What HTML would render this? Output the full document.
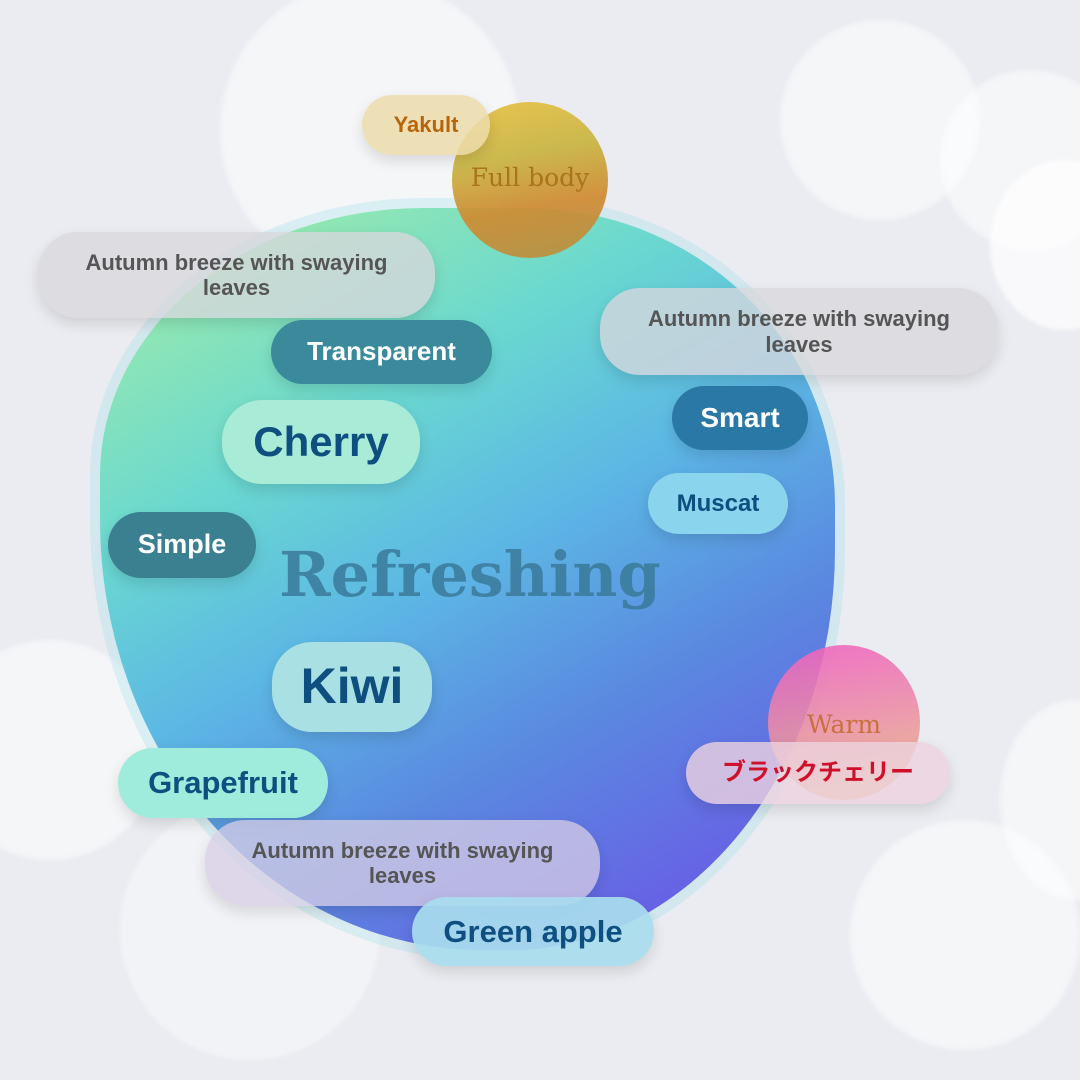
<!DOCTYPE html>
<html><head><meta charset="utf-8"><style>
html,body{margin:0;width:1080px;height:1080px;overflow:hidden}
body{background:#eaecf1;position:relative;font-family:"Liberation Sans","Noto Sans CJK JP",sans-serif;}
.b{position:absolute;border-radius:50%;background:rgba(255,255,255,.5);filter:blur(2px)}
.p{position:absolute;display:flex;align-items:center;justify-content:center;text-align:center;border-radius:40px;font-weight:bold;box-shadow:0 6px 14px rgba(0,0,0,.12);line-height:1.15}
.g{background:rgba(215,215,220,.78);color:#555;font-size:22px}
</style></head><body>
<div class="b" style="left:220px;top:-20px;width:300px;height:300px"></div>
<div class="b" style="left:780px;top:20px;width:200px;height:200px"></div>
<div class="b" style="left:940px;top:70px;width:180px;height:180px"></div>
<div class="b" style="left:990px;top:160px;width:150px;height:170px;background:rgba(255,255,255,.7)"></div>
<div class="b" style="left:-60px;top:640px;width:220px;height:220px"></div>
<div class="b" style="left:120px;top:800px;width:260px;height:260px;background:rgba(255,255,255,.4)"></div>
<div class="b" style="left:850px;top:820px;width:230px;height:230px"></div>
<div class="b" style="left:1000px;top:700px;width:150px;height:200px"></div>

<div style="position:absolute;left:100px;top:208px;width:735px;height:742px;border-radius:44% 42% 44% 52%/36% 40% 54% 58%;background:linear-gradient(150deg,#a8f0a0 0%,#6ad8d0 30%,#5cb8e4 48%,#5a88e0 68%,#6a5ae6 92%);box-shadow:0 0 0 10px rgba(140,220,230,.25)"></div>

<div style="position:absolute;left:452px;top:102px;width:156px;height:156px;border-radius:50%;background:linear-gradient(170deg,#e8c040 0%,#c8b440 35%,#d08a30 65%,#b89040 100%);opacity:.92"></div>
<div class="p" style="left:362px;top:95px;width:128px;height:60px;background:rgba(236,220,170,.85);color:#b8650a;font-size:22px">Yakult</div>
<div style="position:absolute;left:445px;top:163px;width:170px;text-align:center;font-family:'DejaVu Serif',serif;font-size:25px;color:#a8741c">Full body</div>

<div class="p g" style="left:38px;top:232px;width:397px;height:86px">Autumn breeze with swaying<br>leaves</div>
<div class="p g" style="left:600px;top:288px;width:398px;height:87px">Autumn breeze with swaying<br>leaves</div>
<div class="p" style="left:271px;top:320px;width:221px;height:64px;background:#3a8a9c;color:#fff;font-size:26px">Transparent</div>
<div class="p" style="left:222px;top:400px;width:198px;height:84px;background:#a8ecd8;color:#0e4f80;font-size:42px">Cherry</div>
<div class="p" style="left:672px;top:386px;width:136px;height:64px;background:#2a78a6;color:#fff;font-size:28px">Smart</div>
<div class="p" style="left:648px;top:473px;width:140px;height:61px;background:#8ad4ee;color:#0e4f80;font-size:24px">Muscat</div>
<div class="p" style="left:108px;top:512px;width:148px;height:66px;background:#3a8090;color:#fff;font-size:27px">Simple</div>
<div style="position:absolute;left:230px;top:538px;width:480px;text-align:center;font-family:'DejaVu Serif',serif;font-weight:bold;font-size:62px;color:#3a7a9a;opacity:.85">Refreshing</div>
<div class="p" style="left:272px;top:642px;width:160px;height:90px;background:#a8e0e4;color:#0e4f80;font-size:50px">Kiwi</div>

<div style="position:absolute;left:768px;top:645px;width:152px;height:155px;border-radius:50%;background:linear-gradient(170deg,#f060c0 0%,#ec8aa8 45%,#eac080 100%);opacity:.88"></div>
<div style="position:absolute;left:768px;top:710px;width:152px;text-align:center;font-family:'DejaVu Serif',serif;font-size:25px;color:#c87040">Warm</div>
<div class="p" style="left:686px;top:742px;width:264px;height:62px;background:rgba(236,210,222,.8);color:#d0102a;font-size:24px">ブラックチェリー</div>

<div class="p" style="left:118px;top:748px;width:210px;height:70px;background:#a0ecdc;color:#0e4f80;font-size:31px">Grapefruit</div>
<div class="p g" style="left:205px;top:820px;width:395px;height:86px;background:rgba(215,205,228,.75)">Autumn breeze with swaying<br>leaves</div>
<div class="p" style="left:412px;top:897px;width:242px;height:69px;background:rgba(168,220,238,.92);color:#0e4f80;font-size:31px">Green apple</div>
</body></html>
